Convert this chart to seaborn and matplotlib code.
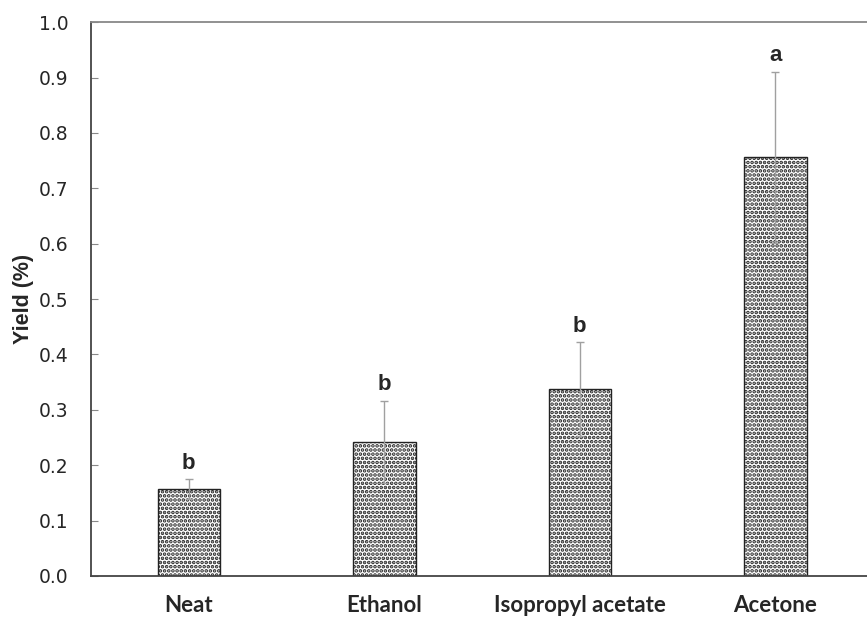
import matplotlib
matplotlib.use("Agg")
import matplotlib.pyplot as plt
import seaborn as sns
import pandas as pd

categories = ["Neat", "Ethanol", "Isopropyl acetate", "Acetone"]
yield_vals = [0.157, 0.242, 0.337, 0.756]
errors = [0.018, 0.074, 0.085, 0.155]
letters = ["b", "b", "b", "a"]
yticks = [0.0, 0.1, 0.2, 0.3, 0.4, 0.5, 0.6, 0.7, 0.8, 0.9, 1.0]

df = pd.DataFrame({"Solvent": categories, "Yield": yield_vals})

sns.set_style("white")
plt.rcParams["hatch.linewidth"] = 1.8
plt.rcParams["font.family"] = ["DejaVu Sans"]

fig = plt.figure(figsize=(8.67, 6.18), dpi=100)
ax = fig.add_axes([0.105, 0.068, 0.902, 0.896])

sns.barplot(data=df, x="Solvent", y="Yield", ax=ax, width=0.32,
            color="white", edgecolor="#222222", linewidth=1.0, errorbar=None)
for p in ax.patches:
    p.set_hatch("....")

xs = list(range(len(categories)))
ax.errorbar(xs, yield_vals, yerr=errors, fmt="none", ecolor="#a0a0a0",
            elinewidth=1.0, capsize=3, capthick=1.0, zorder=3)

for x, v, e, l in zip(xs, yield_vals, errors, letters):
    ax.annotate(l, (x, v + e), xytext=(0, 4), textcoords="offset points",
                ha="center", va="bottom", fontsize=16, fontweight="bold",
                family=["Liberation Sans", "DejaVu Sans"])

ax.set_xlim(-0.5, 3.5)
ax.set_ylim(0, 1.0)
ax.set_yticks(yticks)
ax.set_yticklabels([f"{t:.1f}" for t in yticks], fontsize=13.5, family=["DejaVu Sans"])
ax.set_xticks(xs)
ax.set_xticklabels(categories, fontsize=16, fontweight="bold", family=["Lato", "DejaVu Sans"])
ax.tick_params(axis="x", length=0, pad=14)
ax.tick_params(axis="y", direction="in", length=5, width=0.8, color="#888888", pad=16, left=True)
ax.set_xlabel("")
ax.set_ylabel("Yield (%)", fontsize=15.5, fontweight="bold", family=["Liberation Sans", "DejaVu Sans"], labelpad=4)

for s in ["left", "bottom"]:
    ax.spines[s].set_color("#444444")
    ax.spines[s].set_linewidth(1.3)
ax.spines["top"].set_color("#888888")
ax.spines["top"].set_linewidth(1.3)
ax.spines["right"].set_visible(False)

fig.savefig("out.png", dpi=100)
